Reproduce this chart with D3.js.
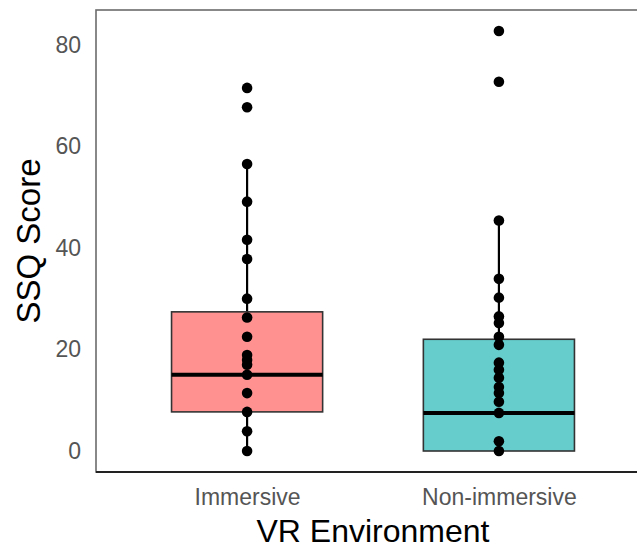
<!DOCTYPE html>
<html>
<head>
<meta charset="utf-8">
<script src="https://cdn.jsdelivr.net/npm/d3@7"></script>
<style>
  html, body { margin: 0; padding: 0; background: #fff; }
  svg { display: block; }
  text { font-family: "Liberation Sans", Arial, sans-serif; }
</style>
</head>
<body>
<svg id="chart" width="637" height="550"></svg>
<script>
// ---- data ----
const categories = ["Immersive", "Non-immersive"];
const fills = ["#FF9191", "#66CDCC"];
const immersivePoints = [0, 3.9, 7.7, 11.4, 15.0, 17.0, 17.9, 18.9, 22.5, 26.3, 30.0, 37.8, 41.6, 49.1, 56.5, 67.7, 71.5];
const nonImmersivePoints = [0, 1.9, 7.5, 9.7, 11.4, 12.6, 14.4, 16.0, 17.4, 20.9, 22.5, 25.2, 26.5, 30.2, 33.9, 45.4, 72.7, 82.7];
const q1 = [7.7, 0];
const medians = [15.0, 7.5];
const q3 = [27.4, 22.0];
const whiskerLow = [0, 0];
const whiskerHigh = [56.5, 45.4];
const yTicks = [0, 20, 40, 60, 80];
const xTitle = "VR Environment";
const yTitle = "SSQ Score";

const pointsByCat = [immersivePoints, nonImmersivePoints];

// ---- layout ----
const panel = { left: 96, top: 10, right: 650, bottom: 472 };
const svg = d3.select("#chart");

const x = d3.scalePoint().domain(categories).range([panel.left, panel.right]).padding(0.6);
const boxW = x.step() * 0.6;

const ymax = d3.max(pointsByCat.flat());
const ymin = 0;
const pad = (ymax - ymin) * 0.05;
const y = d3.scaleLinear().domain([ymin - pad, ymax + pad]).range([panel.bottom, panel.top]);

// panel border
svg.append("rect")
  .attr("x", panel.left).attr("y", panel.top)
  .attr("width", panel.right - panel.left).attr("height", panel.bottom - panel.top)
  .attr("fill", "none").attr("stroke", "#6b6b6b").attr("stroke-width", 1.6);
svg.append("line")
  .attr("x1", panel.left).attr("x2", panel.right)
  .attr("y1", panel.bottom).attr("y2", panel.bottom)
  .attr("stroke", "#222").attr("stroke-width", 1.8);

// y axis (labels only)
const yAxis = d3.axisLeft(y).tickValues(yTicks).tickSize(0).tickPadding(15);
const gy = svg.append("g").attr("transform", `translate(${panel.left},0)`).call(yAxis);
gy.select(".domain").remove();
gy.selectAll("text").attr("font-size", 23).attr("fill", "#555")
  .style("font-family", "'Liberation Sans', Arial, sans-serif");

// x axis (labels only)
const xAxis = d3.axisBottom(x).tickSize(0).tickPadding(17);
const gx = svg.append("g").attr("transform", `translate(0,${panel.bottom})`).call(xAxis);
gx.select(".domain").remove();
gx.selectAll("text").attr("font-size", 23).attr("fill", "#555")
  .style("font-family", "'Liberation Sans', Arial, sans-serif");

// titles
svg.append("text")
  .attr("x", (panel.left + panel.right) / 2).attr("y", 542)
  .attr("text-anchor", "middle").attr("font-size", 32).attr("fill", "#000")
  .text(xTitle);
svg.append("text")
  .attr("transform", `translate(40,${(panel.top + panel.bottom) / 2}) rotate(-90)`)
  .attr("text-anchor", "middle").attr("font-size", 33).attr("fill", "#000")
  .text(yTitle);

// boxes
const g = svg.append("g");
categories.forEach((c, i) => {
  const cx = x(c);
  // whiskers
  g.append("line").attr("x1", cx).attr("x2", cx)
    .attr("y1", y(q3[i])).attr("y2", y(whiskerHigh[i]))
    .attr("stroke", "#000").attr("stroke-width", 2.2);
  g.append("line").attr("x1", cx).attr("x2", cx)
    .attr("y1", y(q1[i])).attr("y2", y(whiskerLow[i]))
    .attr("stroke", "#000").attr("stroke-width", 2.2);
  // box
  g.append("rect")
    .attr("x", cx - boxW / 2).attr("width", boxW)
    .attr("y", y(q3[i])).attr("height", y(q1[i]) - y(q3[i]))
    .attr("fill", fills[i]).attr("stroke", "#333").attr("stroke-width", 1.6);
  // median
  g.append("line")
    .attr("x1", cx - boxW / 2).attr("x2", cx + boxW / 2)
    .attr("y1", y(medians[i])).attr("y2", y(medians[i]))
    .attr("stroke", "#000").attr("stroke-width", 4);
  // points
  g.selectAll(null).data(pointsByCat[i]).enter().append("circle")
    .attr("cx", cx).attr("cy", d => y(d)).attr("r", 5.3)
    .attr("fill", "#000");
});
</script>
</body>
</html>
